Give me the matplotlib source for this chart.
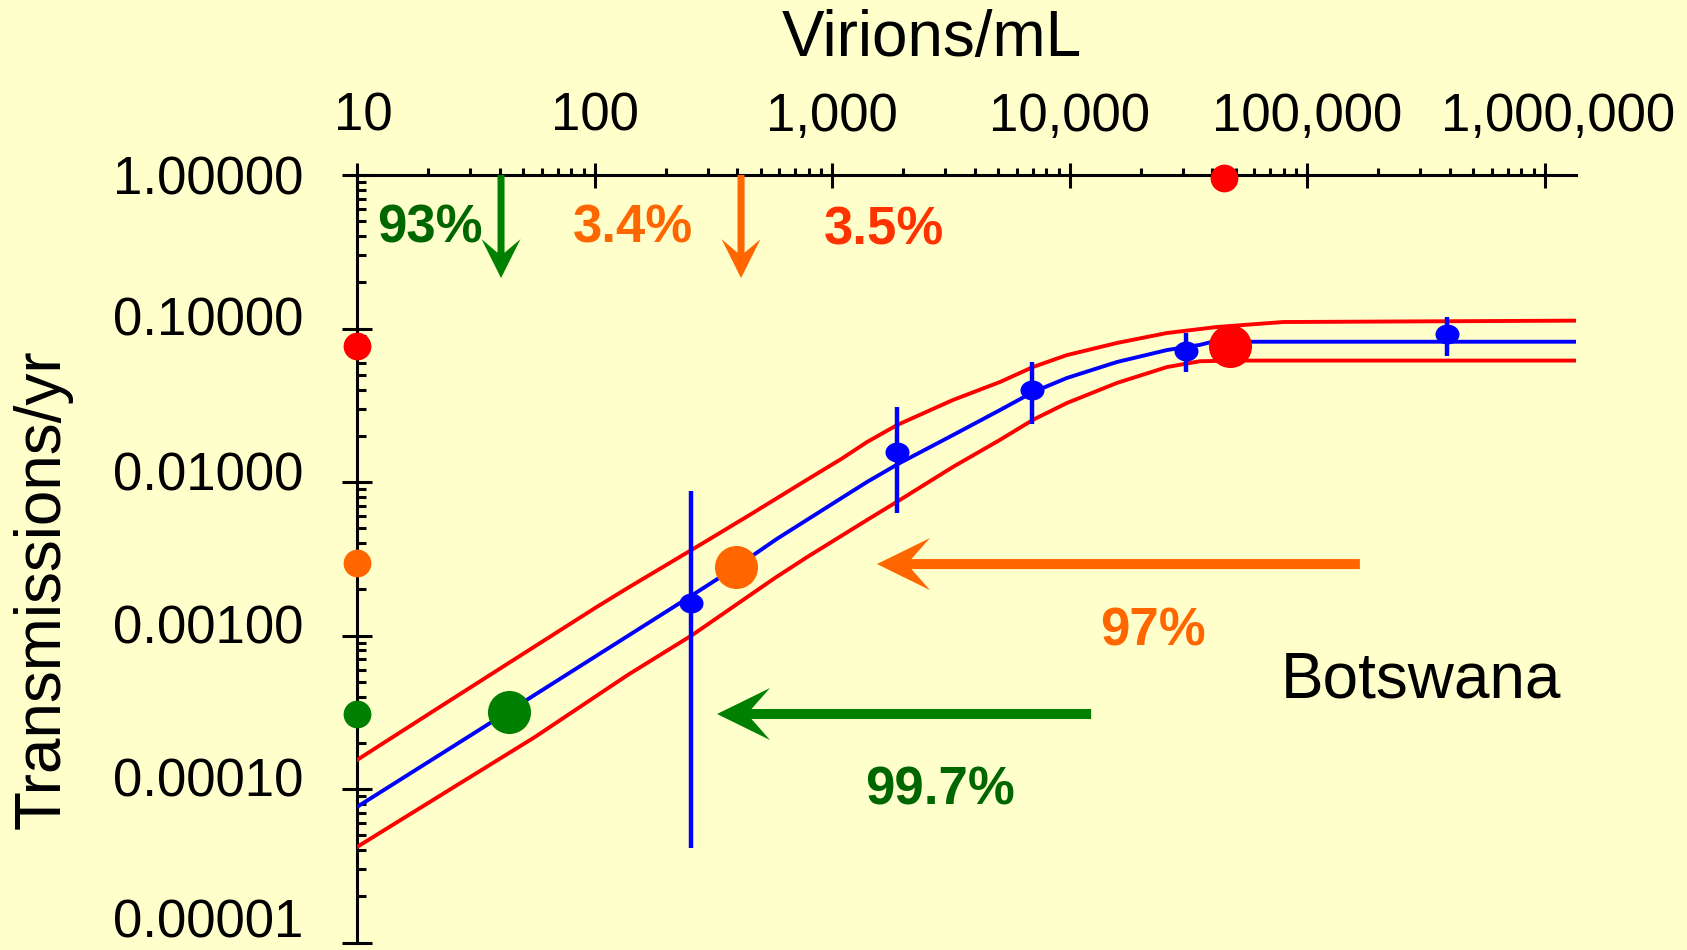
import matplotlib
matplotlib.use('Agg')
import matplotlib.pyplot as plt
import matplotlib.transforms as mtransforms
import numpy as np
from matplotlib.patches import Polygon
from matplotlib.path import Path
from matplotlib.ticker import FixedLocator, LogLocator, NullFormatter

plt.rcParams['font.family'] = ['Liberation Sans', 'DejaVu Sans']

BG = '#FFFFCC'
BLUE = '#0000FF'
RED = '#FF0000'
ORANGE = '#FF6600'
GREEN = '#008000'
DARK_GREEN = '#006600'
RED_ORANGE = '#FF3300'

# fitted transmission rate vs viral load, with upper/lower bounds
fit_x = [10, 43.3, 100, 255, 394, 586, 1403, 1930, 3228, 5093, 7015, 9750,
         15850, 25760, 35400, 40000, 1.36e6]
fit_y = [7.64e-5, 3.19e-4, 7.24e-4, 1.81e-3, 2.79e-3, 4.26e-3, 0.0100, 0.0133,
         0.0202, 0.0294, 0.0385, 0.0476, 0.0605, 0.0724, 0.0782, 0.082, 0.082]

upper_x = [10, 21.3, 100.5, 138, 301, 464, 785, 1100, 1403, 1879, 3228, 5093,
           7015, 9750, 15850, 25760, 41800, 79250, 1.36e6]
upper_y = [1.545e-4, 3.27e-4, 1.51e-3, 2.04e-3, 4.19e-3, 6.28e-3, 0.01035,
           0.0142, 0.0182, 0.0235, 0.0342, 0.0448, 0.0561, 0.0671, 0.0805,
           0.0935, 0.1023, 0.1102, 0.1125]

lower_x = [10, 21.9, 56.1, 138, 258, 575, 785, 1403, 1932, 3228, 5093, 7015,
           9750, 15850, 25760, 35400, 48750, 1.36e6]
lower_y = [4.19e-5, 8.87e-5, 2.18e-4, 5.53e-4, 1.007e-3, 2.37e-3, 3.24e-3,
           5.65e-3, 7.64e-3, 0.01253, 0.0188, 0.0254, 0.0327, 0.0442, 0.0561,
           0.0612, 0.0618, 0.0618]

# observed cohort rates with intervals
cohort_x = [255, 1880, 6955, 30970, 388000]
cohort_y = [1.62e-3, 0.01567, 0.0397, 0.0713, 0.092]
cohort_lo = [4.13e-5, 0.00628, 0.0239, 0.0521, 0.0662]
cohort_hi = [8.74e-3, 0.0308, 0.0605, 0.0935, 0.1188]

# Botswana scenario: viral load groups and their rates
group_colors = [RED, ORANGE, GREEN]
group_x = [47400, 394, 43.6]
group_y = [0.0769, 2.79e-3, 3.17e-4]
axis_rate_y = [0.0769, 2.97e-3, 3.08e-4]
median_load_x = 44800
median_load_y = 0.95

down_arrow_x = [40.4, 414]
down_arrow_colors = [GREEN, ORANGE]
down_arrow_tip = 0.213
left_arrow_y = [2.92e-3, 3.08e-4]
left_arrow_tail = [167000, 12330]
left_arrow_tip = [1546, 328]
left_arrow_colors = [ORANGE, GREEN]

share_labels = ['93%', '3.4%', '3.5%']
share_x = [20.3, 145, 1656]
share_y = [0.366, 0.366, 0.355]
share_colors = [DARK_GREEN, ORANGE, RED_ORANGE]

reduction_labels = ['97%', '99.7%']
reduction_x = [22500, 2850]
reduction_y = [8.6e-4, 7.87e-5]
reduction_colors = [ORANGE, DARK_GREEN]

xticks = [10, 100, 1000, 10000, 100000, 1000000]
xtick_labels = ['10', '100', '1,000', '10,000', '100,000', '1,000,000']
yticks = [1e-5, 1e-4, 1e-3, 1e-2, 1e-1, 1]
ytick_labels = ['0.00001', '0.00010', '0.00100', '0.01000', '0.10000', '1.00000']

W, H, DPI = 1687, 950, 100
fig = plt.figure(figsize=(W / DPI, H / DPI), dpi=DPI, facecolor=BG)
ax = fig.add_axes([357 / W, 1 - 942.5 / H, 1219 / W, 767.5 / H])
ax.set_facecolor(BG)
ax.set_xscale('log')
ax.set_yscale('log')
ax.set_xlim(10, 10 ** (1 + 1219 / 237.5))
ax.set_ylim(1e-5, 1)

for s in ('bottom', 'right'):
  ax.spines[s].set_visible(False)
for s in ('top', 'left'):
  ax.spines[s].set_linewidth(2.2)

ax.xaxis.tick_top()
ax.xaxis.set_major_locator(FixedLocator(xticks))
ax.xaxis.set_minor_locator(LogLocator(base=10, subs=np.arange(2, 10)))
ax.xaxis.set_minor_formatter(NullFormatter())
ax.set_xticklabels(xtick_labels)
ax.yaxis.set_major_locator(FixedLocator(yticks))
ax.yaxis.set_minor_locator(LogLocator(base=10, subs=np.arange(2, 10)))
ax.yaxis.set_minor_formatter(NullFormatter())
ax.set_yticklabels(ytick_labels)

ax.tick_params(axis='x', which='major', direction='inout', length=18,
               width=2.2, labelsize=38, pad=15)
ax.tick_params(axis='x', which='minor', direction='out', length=5, width=2.2)
ax.tick_params(axis='y', which='major', direction='inout', length=21.6,
               width=2.2, labelsize=38, pad=28)
ax.tick_params(axis='y', which='minor', direction='in', length=6.5, width=2.2)

# curves
ax.plot(upper_x, upper_y, color=RED, lw=2.8, zorder=3)
ax.plot(lower_x, lower_y, color=RED, lw=2.8, zorder=3)
ax.plot(fit_x, fit_y, color=BLUE, lw=2.8, zorder=3)

# cohort points with vertical intervals
yerr = [np.array(cohort_y) - np.array(cohort_lo),
        np.array(cohort_hi) - np.array(cohort_y)]
ax.errorbar(cohort_x, cohort_y, yerr=yerr, fmt='none', ecolor=BLUE,
            elinewidth=3.2, capsize=0, zorder=4)
oval = Path.unit_circle().transformed(mtransforms.Affine2D().scale(1.0, 0.83))
ax.plot(cohort_x, cohort_y, ls='none', marker=oval, ms=17.3, color=BLUE,
        mec='none', zorder=5)

# group dots on the curve and on the y axis
for c, gx, gy, ay in zip(group_colors, group_x, group_y, axis_rate_y):
  ax.plot([gx], [gy], ls='none', marker='o', ms=31, color=c, mec='none',
          zorder=6)
  ax.plot([10], [ay], ls='none', marker='o', ms=20, color=c, mec='none',
          zorder=6, clip_on=False)
ax.plot([median_load_x], [median_load_y], ls='none', marker='o', ms=20,
        color=RED, mec='none', zorder=6, clip_on=False)


def arrow(x0, y0, x1, y1, color, head_len, head_half, shaft_half, notch=0.65):
  """Arrow with a swept-back head, sized in pixels, from data (x0,y0) to (x1,y1)."""
  tail = ax.transData.transform((x0, y0))
  tip = ax.transData.transform((x1, y1))
  d = (tip - tail) / np.hypot(*(tip - tail))
  n = np.array([-d[1], d[0]])
  pts = [tip,
         tip - d * head_len + n * head_half,
         tip - d * notch * head_len + n * shaft_half,
         tail + n * shaft_half,
         tail - n * shaft_half,
         tip - d * notch * head_len - n * shaft_half,
         tip - d * head_len - n * head_half]
  ax.add_patch(Polygon(pts, closed=True, facecolor=color, edgecolor='none',
                       transform=mtransforms.IdentityTransform(),
                       clip_on=False, zorder=7))


for x, c in zip(down_arrow_x, down_arrow_colors):
  arrow(x, 1.0, x, down_arrow_tip, c, 39, 19.5, 3.5)
for y, t0, t1, c in zip(left_arrow_y, left_arrow_tail, left_arrow_tip,
                        left_arrow_colors):
  arrow(t0, y, t1, y, c, 53, 26, 5)

for s, x, y, c in zip(share_labels, share_x, share_y, share_colors):
  ax.text(x, y, s, color=c, fontsize=38, fontweight='bold', ha='center',
          va='baseline', zorder=8)
for s, x, y, c in zip(reduction_labels, reduction_x, reduction_y,
                      reduction_colors):
  ax.text(x, y, s, color=c, fontsize=38, fontweight='bold', ha='center',
          va='baseline', zorder=8)
ax.text(302000, 3.97e-4, 'Botswana', color='black', fontsize=46,
        ha='center', va='baseline', zorder=8)

fig.text(932 / W, 1 - 56 / H, 'Virions/mL', fontsize=46, ha='center',
         va='baseline')
fig.text(60 / W, 1 - 589 / H, 'Transmissions/yr', fontsize=46, rotation=90,
         rotation_mode='anchor', ha='center', va='baseline')


def shift(label, dx_px, dy_px):
  label.set_transform(label.get_transform() + mtransforms.ScaledTranslation(
      dx_px / DPI, dy_px / DPI, fig.dpi_scale_trans))


# small hand-placed offsets on some tick labels
xlabels = ax.get_xticklabels()
shift(xlabels[0], 6, 0)
shift(xlabels[-1], 14, 0)
for lab, dy in zip(ax.get_yticklabels(), [24, 12, 11, 11, 12, 0]):
  shift(lab, 0, dy)

fig.savefig('out.png', dpi=DPI, facecolor=BG)
